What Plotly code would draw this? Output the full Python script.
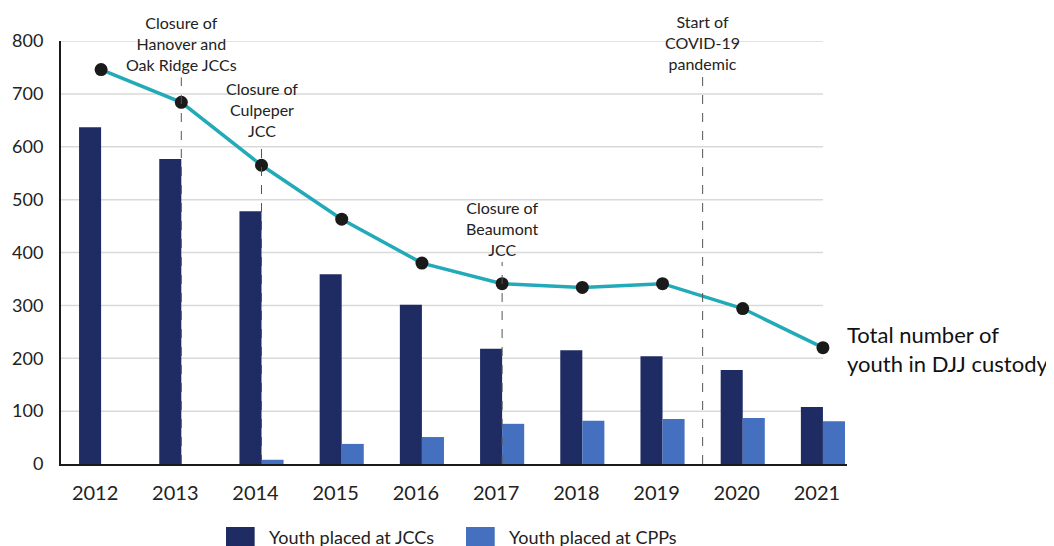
import plotly.graph_objects as go

YEARS = ["2012", "2013", "2014", "2015", "2016", "2017", "2018", "2019", "2020", "2021"]
JCC_YOUTH = [637, 577, 478, 359, 301, 218, 215, 204, 178, 108]
CPP_YOUTH = [0, 0, 8, 38, 51, 76, 82, 85, 87, 81]
TOTAL_YOUTH = [746, 684, 565, 463, 380, 341, 334, 341, 294, 220]
Y_TICKS = [0, 100, 200, 300, 400, 500, 600, 700, 800]

# event markers: (x position in category index, top of dashed line, text)
EVENTS = [
    (1, 731, "Closure of<br>Hanover and<br>Oak Ridge JCCs"),
    (2, 608, "Closure of<br>Culpeper<br>JCC"),
    (5, 382, "Closure of<br>Beaumont<br>JCC"),
    (7.5, 734, "Start of<br>COVID-19<br>pandemic"),
]

NAVY = "#1f2c64"
BLUE = "#4470bf"
TEAL = "#22aab8"
FONT = "Lato, 'Open Sans', Arial, sans-serif"

fig = go.Figure()
fig.add_trace(go.Bar(
    x=YEARS, y=JCC_YOUTH, name="Youth placed at JCCs",
    marker=dict(color=NAVY, line=dict(width=0)),
))
fig.add_trace(go.Bar(
    x=YEARS, y=CPP_YOUTH, name="Youth placed at CPPs",
    marker=dict(color=BLUE, line=dict(width=0)),
))
fig.add_trace(go.Scatter(
    x=YEARS, y=TOTAL_YOUTH, mode="lines+markers", name="Total",
    line=dict(color=TEAL, width=3.5),
    marker=dict(color="#1a1a1a", size=13),
    cliponaxis=False,
))

shapes = []
for t in Y_TICKS[1:]:
    shapes.append(dict(
        type="line", xref="x", yref="y", x0=-0.5, x1=len(YEARS) - 1, y0=t, y1=t,
        line=dict(color="#d9d9d9", width=1.5), layer="below",
    ))

annotations = []
for xpos, top, label in EVENTS:
    shapes.append(dict(
        type="line", xref="x", yref="y", x0=xpos, x1=xpos, y0=0, y1=top,
        line=dict(color="#555555", width=1, dash="dash"),
    ))
    annotations.append(dict(
        x=xpos, y=top, xref="x", yref="y", text=label, showarrow=False,
        yanchor="bottom", yshift=1, align="center",
        font=dict(family=FONT, size=16, color="#222222"),
    ))

annotations.append(dict(
    x=len(YEARS) - 1, y=TOTAL_YOUTH[-1], xref="x", yref="y",
    text="Total number of<br>youth in DJJ custody", showarrow=False,
    xanchor="left", yanchor="middle", xshift=22, yshift=-1, align="left",
    font=dict(family=FONT, size=22, color="#111111"),
))

# hand-made legend with large square swatches
for x0, color, label in [(0.2099, NAVY, "Youth placed at JCCs"),
                         (0.5153, BLUE, "Youth placed at CPPs")]:
    shapes.append(dict(
        type="rect", xref="paper", yref="paper",
        x0=x0, x1=x0 + 0.0365, y0=-0.149, y1=-0.215,
        fillcolor=color, line=dict(width=0),
    ))
    annotations.append(dict(
        x=x0 + 0.0525, y=-0.1726, xref="paper", yref="paper", text=label,
        showarrow=False, xanchor="left", yanchor="middle",
        font=dict(family=FONT, size=18, color="#222222"),
    ))

fig.update_layout(
    width=1054, height=546,
    margin=dict(l=53, r=215, t=33, b=90),
    paper_bgcolor="white", plot_bgcolor="white",
    font=dict(family=FONT, size=16, color="#222222"),
    barmode="group", bargap=0.45, bargroupgap=0,
    shapes=shapes, annotations=annotations,
    showlegend=False,
    xaxis=dict(
        type="category", range=[-0.5, 9.3], automargin=False,
        showline=True, linecolor="#1a1a1a", linewidth=2,
        showgrid=False, ticks="", ticklabelstandoff=10, ticklabelshift=-6,
        tickfont=dict(family=FONT, size=20, color="#222222"),
    ),
    yaxis=dict(
        range=[0, 800], tickvals=Y_TICKS, automargin=False,
        showline=True, linecolor="#1a1a1a", linewidth=2,
        showgrid=False, zeroline=False, ticks="", ticklabelstandoff=12,
        tickfont=dict(family=FONT, size=18, color="#222222"),
    ),
)

fig.write_html("out.html")
